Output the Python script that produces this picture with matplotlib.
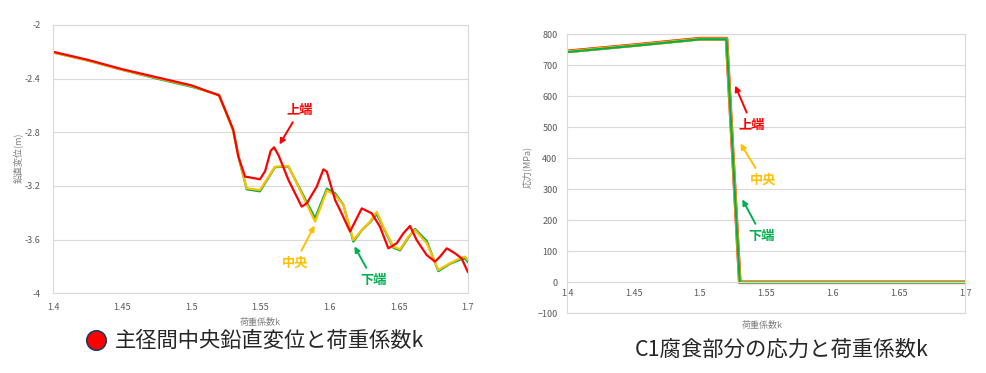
import numpy as np
import matplotlib
matplotlib.use('Agg')
from matplotlib import pyplot as plt
from matplotlib.lines import Line2D

plt.rcParams['font.family'] = ['Noto Sans CJK JP', 'DejaVu Sans']

#======data: left chart (鉛直変位)======
k_top = [1.40, 1.425, 1.45, 1.475, 1.50, 1.52, 1.5274, 1.5303, 1.5339, 1.5388, 1.5496,
         1.5533, 1.5574, 1.5598, 1.563, 1.5702, 1.5798, 1.5835, 1.5907, 1.5955, 1.598,
         1.604, 1.6076, 1.6148, 1.6233, 1.6305, 1.6365, 1.6425, 1.6486, 1.6534, 1.6582,
         1.663, 1.6703, 1.6763, 1.6799, 1.6848, 1.6908, 1.6956, 1.70]
v_top = [-2.20, -2.26, -2.33, -2.39, -2.45, -2.525, -2.708, -2.783, -2.98, -3.13, -3.15,
         -3.09, -2.937, -2.912, -2.97, -3.155, -3.354, -3.329, -3.205, -3.076, -3.093,
         -3.305, -3.38, -3.54, -3.367, -3.404, -3.504, -3.665, -3.627, -3.553, -3.498,
         -3.603, -3.715, -3.764, -3.727, -3.665, -3.702, -3.74, -3.84]

k_mid = [1.40, 1.425, 1.45, 1.475, 1.50, 1.52, 1.53, 1.5352, 1.54, 1.5496, 1.5605, 1.5702,
         1.5895, 1.598, 1.604, 1.610, 1.6172, 1.6233, 1.6293, 1.6341, 1.6389, 1.6461,
         1.651, 1.657, 1.6618, 1.6703, 1.6787, 1.6871, 1.6944, 1.698, 1.70]
v_mid = [-2.205, -2.265, -2.335, -2.395, -2.455, -2.525, -2.78, -3.03, -3.217, -3.23,
         -3.056, -3.051, -3.466, -3.234, -3.267, -3.342, -3.603, -3.528, -3.466, -3.392,
         -3.504, -3.653, -3.672, -3.578, -3.528, -3.627, -3.826, -3.776, -3.74, -3.727, -3.75]
v_bot = [-2.205, -2.265, -2.335, -2.40, -2.46, -2.52, -2.78, -3.03, -3.225, -3.24,
         -3.06, -3.055, -3.44, -3.22, -3.255, -3.34, -3.615, -3.53, -3.47, -3.41,
         -3.51, -3.66, -3.68, -3.585, -3.52, -3.61, -3.835, -3.78, -3.75, -3.74, -3.765]

#======data: right chart (応力)======
k_s = [1.40, 1.45, 1.50, 1.52, 1.53, 1.55, 1.60, 1.65, 1.70]
s_top = [744, 764, 785, 785, 0, 0, 0, 0, 0]
s_mid = [743, 763, 784, 784, -0.5, -0.5, -0.5, -0.5, -0.5]
s_bot = [742, 762, 783, 783, -1, -1, -1, -1, -1]

xticks = [1.4, 1.45, 1.5, 1.55, 1.6, 1.65, 1.7]
xticklabels = ['1.4', '1.45', '1.5', '1.55', '1.6', '1.65', '1.7']
yticks_d = [-4, -3.6, -3.2, -2.8, -2.4, -2]
yticklabels_d = ['-4', '-3.6', '-3.2', '-2.8', '-2.4', '-2']
yticks_s = list(range(-100, 900, 100))

RED = '#FF0000'
ORANGE = '#FFC000'
GREEN = '#00B050'
GRID = '#D9D9D9'
TICKC = '#595959'


def style_axes(ax):
    for s in ax.spines.values():
        s.set_color(GRID)
        s.set_linewidth(0.8)
    ax.grid(axis='y', color=GRID, linewidth=0.8)
    ax.set_axisbelow(True)
    ax.tick_params(length=0, labelsize=6.5, labelcolor=TICKC)


fig = plt.figure(figsize=(9.87, 3.73), dpi=100)

#------left chart------
ax1 = fig.add_axes([0.054, 0.2137, 0.4199, 0.7193])
style_axes(ax1)
ax1.plot(k_mid, v_bot, color=GREEN, lw=1.6, solid_joinstyle='round')
ax1.plot(k_mid, v_mid, color=ORANGE, lw=1.6, solid_joinstyle='round')
ax1.plot(k_top, v_top, color=RED, lw=1.6, solid_joinstyle='round')
ax1.set_xlim(1.4, 1.7)
ax1.set_ylim(-4, -2)
ax1.set_xticks(xticks)
ax1.set_xticklabels(xticklabels)
ax1.set_yticks(yticks_d)
ax1.set_yticklabels(yticklabels_d)
ax1.tick_params(axis='x', pad=7)
ax1.tick_params(axis='y', pad=9)
ax1.set_xlabel('荷重係数k', fontsize=6.5, color='#7F7F7F')
ax1.xaxis.set_label_coords(0.5, -0.107)
ax1.xaxis.label.set_va('center')
ax1.set_ylabel('鉛直変位(m)', fontsize=6.5, color='#7F7F7F')
ax1.yaxis.set_label_coords(-0.085, 0.504)
ax1.yaxis.label.set_va('center')

ann = dict(fontsize=9.5, fontweight='bold', ha='center', va='center')
ax1.annotate('上端', xy=(1.5627, -2.909), xytext=(1.5786, -2.634), color=RED,
             arrowprops=dict(arrowstyle='-|>', color=RED, lw=1.4, mutation_scale=8), **ann)
ax1.annotate('中央', xy=(1.5901, -3.476), xytext=(1.5749, -3.774), color=ORANGE,
             arrowprops=dict(arrowstyle='-|>', color=ORANGE, lw=1.4, mutation_scale=8), **ann)
ax1.annotate('下端', xy=(1.6170, -3.632), xytext=(1.6315, -3.901), color=GREEN,
             arrowprops=dict(arrowstyle='-|>', color=GREEN, lw=1.4, mutation_scale=8), **ann)

#------right chart------
ax2 = fig.add_axes([0.5748, 0.16, 0.4032, 0.7488])
style_axes(ax2)
ax2.plot(k_s, s_top, color=RED, lw=2.6)
ax2.plot(k_s, s_mid, color=ORANGE, lw=2.3)
ax2.plot(k_s, s_bot, color=GREEN, lw=1.6)
ax2.set_xlim(1.4, 1.7)
ax2.set_ylim(-100, 800)
ax2.set_xticks(xticks)
ax2.set_xticklabels(xticklabels)
ax2.set_yticks(yticks_s)
ax2.spines['bottom'].set_position(('data', 0))
ax2.tick_params(axis='x', pad=5)
ax2.tick_params(axis='y', pad=7)
# frame line at -100
ax2.axhline(-100, color=GRID, lw=0.8, clip_on=False)
ax2.set_xlabel('荷重係数k', fontsize=6.5, color='#7F7F7F')
ax2.xaxis.set_label_coords(0.49, -0.042)
ax2.xaxis.label.set_va('center')
ax2.set_ylabel('応力(MPa)', fontsize=6.5, color='#7F7F7F')
ax2.yaxis.set_label_coords(-0.101, 0.524)
ax2.yaxis.label.set_va('center')

ax2.annotate('上端', xy=(1.5257, 642), xytext=(1.5392, 507), color=RED,
             arrowprops=dict(arrowstyle='-|>', color=RED, lw=1.4, mutation_scale=8), **ann)
ax2.annotate('中央', xy=(1.5294, 455), xytext=(1.5475, 329), color=ORANGE,
             arrowprops=dict(arrowstyle='-|>', color=ORANGE, lw=1.4, mutation_scale=8), **ann)
ax2.annotate('下端', xy=(1.5309, 275), xytext=(1.5468, 149), color=GREEN,
             arrowprops=dict(arrowstyle='-|>', color=GREEN, lw=1.4, mutation_scale=8), **ann)

#------captions------
fig.add_artist(Line2D([96 / 987], [1 - 340 / 373], marker='o', markersize=14,
                      markerfacecolor=RED, markeredgecolor='#1F3864', markeredgewidth=1.2,
                      transform=fig.transFigure))
fig.text(115 / 987, 1 - 341 / 373, '主径間中央鉛直変位と荷重係数k', fontsize=15.3,
         color='#262626', ha='left', va='center')
fig.text(635 / 987, 1 - 350 / 373, 'C1腐食部分の応力と荷重係数k', fontsize=15.4,
         color='#262626', ha='left', va='center')

fig.savefig('out.png', dpi=100)
